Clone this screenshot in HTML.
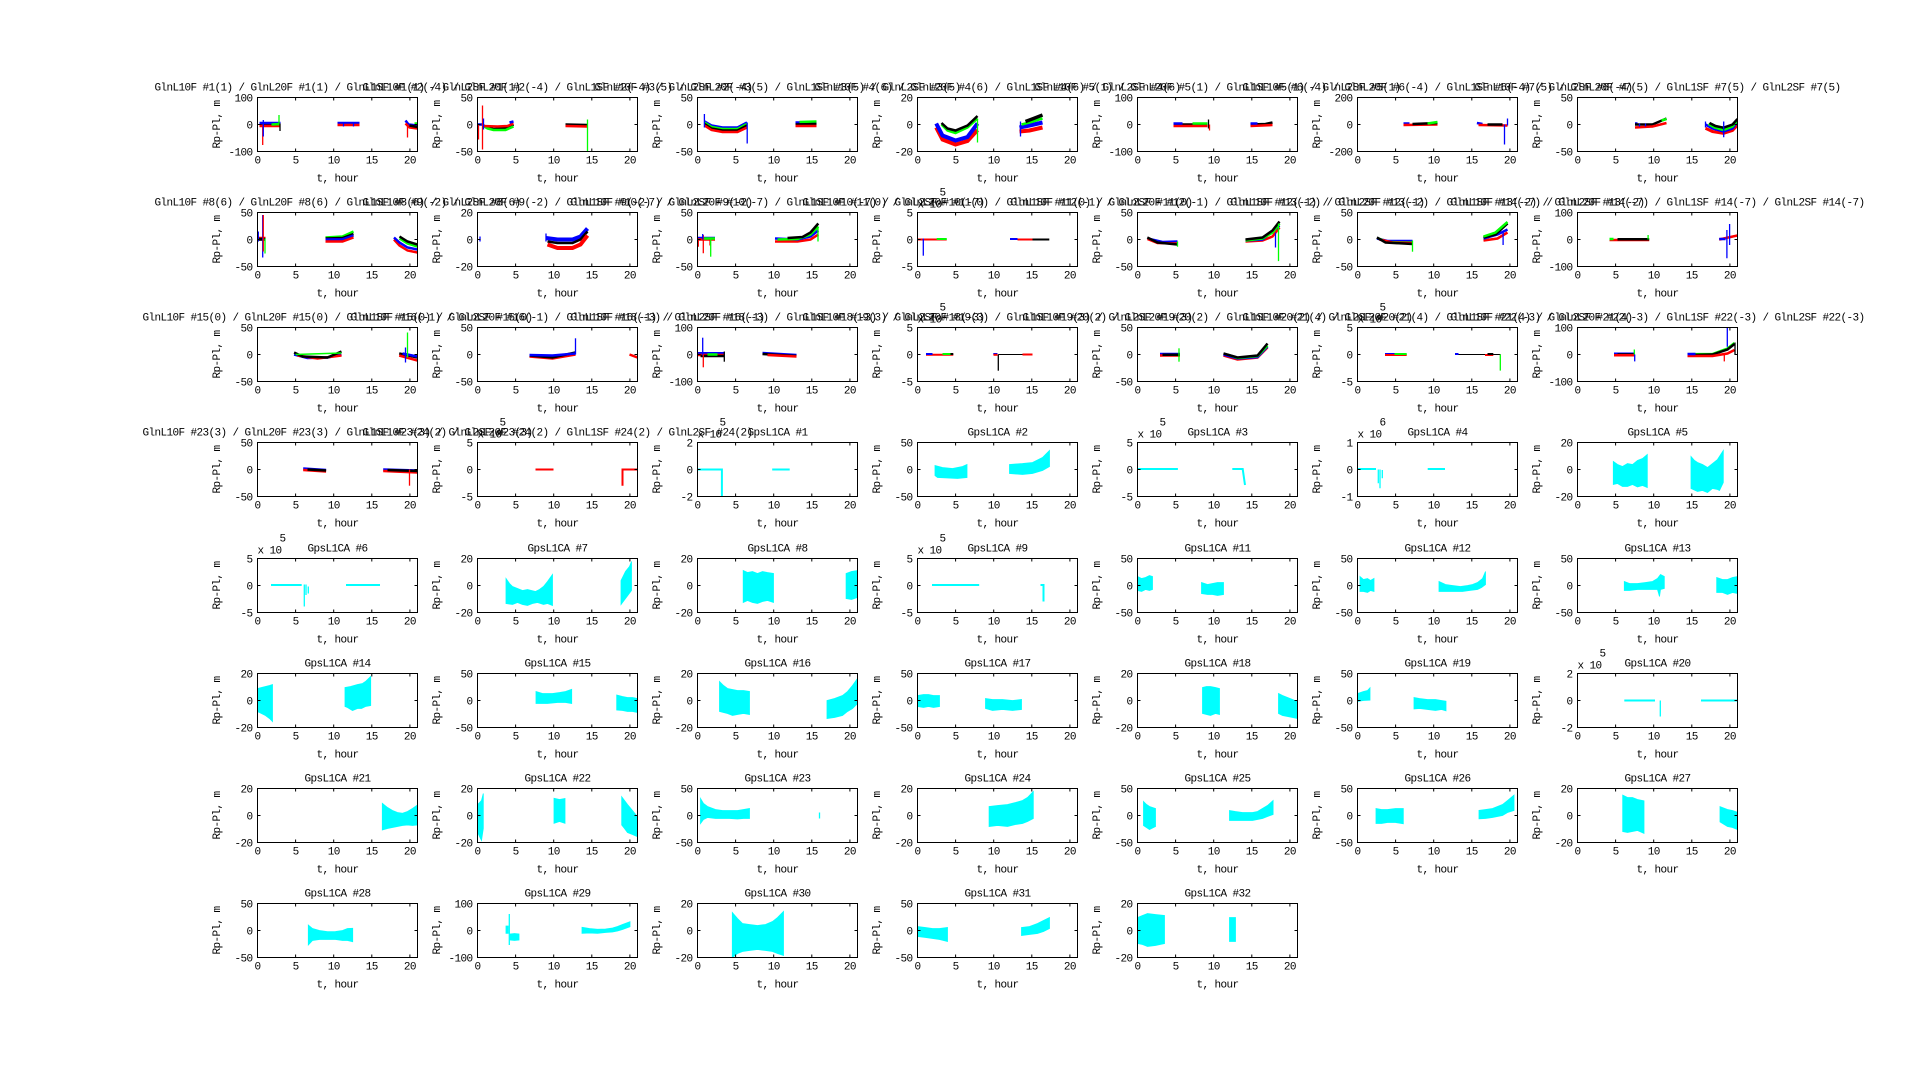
<!DOCTYPE html>
<html><head><meta charset="utf-8"><style>
html,body{margin:0;padding:0;background:#fff}
svg{display:block}
text{font-family:"Liberation Mono","DejaVu Sans Mono",monospace;font-size:11px;letter-spacing:-0.6px;fill:#000}
.m{text-anchor:middle}.e{text-anchor:end}
.b,.g,.r,.k,.c{fill:none;stroke-width:2.5}
.b{stroke:#00f}.g{stroke:#0f0}.r{stroke:#f00}.k{stroke:#000}.c{stroke:#0ff}
.t{stroke-width:2}.s{stroke-width:1.3}.w{stroke-width:4}
.f{fill:#0ff;stroke:#0ff;stroke-width:0.8}
</style></head><body>
<svg width="1920" height="1090" viewBox="0 0 1920 1090" xmlns="http://www.w3.org/2000/svg">
<rect width="1920" height="1090" fill="#fff"/>
<defs>
<clipPath id="cp"><rect x="0" y="0" width="160" height="54"/></clipPath>
<g id="ax"><rect x="0" y="0" width="160" height="54" fill="none" stroke="#000" stroke-width="1"/><path d="M38.1,0v3M76.2,0v3M114.3,0v3M152.4,0v3M38.1,54v-3M76.2,54v-3M114.3,54v-3M152.4,54v-3M0,27h3M160,27h-3" stroke="#000" stroke-width="1" fill="none"/></g>
</defs>

<!-- ROW 1 -->
<g transform="translate(257.5,97.5)">
<g clip-path="url(#cp)">
<polyline class="k" points="2,27 23,27"/><polyline class="b" points="2,25.5 23,25.5"/><polyline class="r" points="2,28.5 23,28.5"/><polyline class="g" points="14,27 22,26.5"/>
<path class="r s" d="M5.2,27V47.5"/><path class="b s" d="M5.8,22.5V39"/><path class="g s" d="M21.5,17.5V28"/><path class="k s" d="M22.5,26V33.5"/>
<polyline class="b" points="80,25.5 102,25.5"/><polyline class="r" points="80,27.5 102,27.5"/><path class="b s" d="M86,26v3M96,26v3"/>
<polyline class="b" points="148,23 151,27 160,28"/><polyline class="r" points="148,26 152,30 160,31"/><path class="r s" d="M150,27V40"/><polyline class="k" points="152,28 160,29.5"/><polyline class="g" points="157,26 160,26"/>
</g><use href="#ax"/>
<text class="m" x="80" y="-7">GlnL10F #1(1) / GlnL20F #1(1) / GlnL1SF #1(1) / GlnL2SF #1(1)</text>
<text class="e" x="-5" y="4">100</text><text class="e" x="-5" y="31">0</text><text class="e" x="-5" y="58">-100</text>
<text class="m" x="0" y="66">0</text><text class="m" x="38.1" y="66">5</text><text class="m" x="76.2" y="66">10</text><text class="m" x="114.3" y="66">15</text><text class="m" x="152.4" y="66">20</text>
<text class="m" x="80" y="84">t, hour</text><text class="m" transform="translate(-37.5,27) rotate(-90)">Rp-Pl, m</text>
</g>

<g transform="translate(477.5,97.5)">
<g clip-path="url(#cp)">
<polyline class="k" points="5,27.5 10,30 16,31.5 29,30.5 36,27"/><polyline class="g" points="6,28.5 10,31 16,32.5 28,32.5 36,29"/><polyline class="r" points="5,28.5 20,29 30,28.5 36,26"/><polyline class="b" points="0.5,27 5,27"/><polyline class="b" points="32,25 36,24"/>
<path class="r s" d="M1,27V42M5,8V52"/><path class="b s" d="M6,21V32"/>
<polyline class="k" points="88,27 110,27.5"/><polyline class="r" points="88,28.5 110,29"/><path class="g s" d="M110,22V54"/>
</g><use href="#ax"/>
<text class="m" x="80" y="-7">GlnL10F #2(-4) / GlnL20F #2(-4) / GlnL1SF #2(-4) / GlnL2SF #2(-4)</text>
<text class="e" x="-5" y="4">50</text><text class="e" x="-5" y="31">0</text><text class="e" x="-5" y="58">-50</text>
<text class="m" x="0" y="66">0</text><text class="m" x="38.1" y="66">5</text><text class="m" x="76.2" y="66">10</text><text class="m" x="114.3" y="66">15</text><text class="m" x="152.4" y="66">20</text>
<text class="m" x="80" y="84">t, hour</text><text class="m" transform="translate(-37.5,27) rotate(-90)">Rp-Pl, m</text>
</g>

<g transform="translate(697.5,97.5)">
<g clip-path="url(#cp)">
<polyline class="b" points="7,24 14,28 25,30 40,30 49.5,25"/><polyline class="g" points="7,25 14,29.5 25,31.5 40,31.5 49.5,26.5"/><polyline class="k" points="7,26.5 14,31 25,33 40,33 49.5,28"/><polyline class="r" points="7,28 14,32.5 25,34.5 40,34.5 49.5,30"/>
<path class="b s" d="M6.9,16.5V30M49.7,25V46"/>
<polyline class="b" points="98,25 119,25"/><polyline class="g" points="102,24.5 119,24"/><polyline class="k" points="98,27 119,26.5"/><polyline class="r" points="98,28.5 119,28.5"/>
</g><use href="#ax"/>
<text class="m" x="80" y="-7">GlnL10F #3(5) / GlnL20F #3(5) / GlnL1SF #3(5) / GlnL2SF #3(5)</text>
<text class="e" x="-5" y="4">50</text><text class="e" x="-5" y="31">0</text><text class="e" x="-5" y="58">-50</text>
<text class="m" x="0" y="66">0</text><text class="m" x="38.1" y="66">5</text><text class="m" x="76.2" y="66">10</text><text class="m" x="114.3" y="66">15</text><text class="m" x="152.4" y="66">20</text>
<text class="m" x="80" y="84">t, hour</text><text class="m" transform="translate(-37.5,27) rotate(-90)">Rp-Pl, m</text>
</g>

<g transform="translate(917.5,97.5)">
<g clip-path="url(#cp)">
<polyline class="r w" points="18.7,30 25,42 38,47 50,43.5 60,32.5"/><polyline class="b w" points="18.7,26 25,38 38,43 50,39.5 60,26"/>
<polyline class="g" points="24,27 30,33 38,35.5 50,30 60,21"/><polyline class="k" points="24,25.5 30,31 38,33 50,28 60,18.5"/><path class="g s" d="M60,21V45"/>
<polyline class="r w" points="102,34 112,33 125,30"/><polyline class="b w" points="102,30 112,28 125,25"/><polyline class="g" points="104,27 112,25 125,21"/><polyline class="k" style="stroke-width:3.5" points="108,24 116,21 125,17.5"/><path class="b s" d="M103,24V39"/>
</g><use href="#ax"/>
<text class="m" x="80" y="-7">GlnL10F #4(6) / GlnL20F #4(6) / GlnL1SF #4(6) / GlnL2SF #4(6)</text>
<text class="e" x="-5" y="4">20</text><text class="e" x="-5" y="31">0</text><text class="e" x="-5" y="58">-20</text>
<text class="m" x="0" y="66">0</text><text class="m" x="38.1" y="66">5</text><text class="m" x="76.2" y="66">10</text><text class="m" x="114.3" y="66">15</text><text class="m" x="152.4" y="66">20</text>
<text class="m" x="80" y="84">t, hour</text><text class="m" transform="translate(-37.5,27) rotate(-90)">Rp-Pl, m</text>
</g>

<g transform="translate(1137.5,97.5)">
<g clip-path="url(#cp)">
<polyline class="k" points="36,27 70,27"/><polyline class="r" points="36,28.5 70,28.5"/><polyline class="b" points="36,26 45,26"/><polyline class="g" points="55,26 70,26"/><path class="k s" d="M71,22V31"/><path class="r s" d="M72,27V33"/>
<polyline class="k" points="113,27 128,26.5 135,25"/><polyline class="r" points="113,28.5 135,27.5"/><polyline class="b" points="113,26 120,26"/>
</g><use href="#ax"/>
<text class="m" x="80" y="-7">GlnL10F #5(1) / GlnL20F #5(1) / GlnL1SF #5(1) / GlnL2SF #5(1)</text>
<text class="e" x="-5" y="4">100</text><text class="e" x="-5" y="31">0</text><text class="e" x="-5" y="58">-100</text>
<text class="m" x="0" y="66">0</text><text class="m" x="38.1" y="66">5</text><text class="m" x="76.2" y="66">10</text><text class="m" x="114.3" y="66">15</text><text class="m" x="152.4" y="66">20</text>
<text class="m" x="80" y="84">t, hour</text><text class="m" transform="translate(-37.5,27) rotate(-90)">Rp-Pl, m</text>
</g>

<g transform="translate(1357.5,97.5)">
<g clip-path="url(#cp)">
<polyline class="b" points="46,26 52,26"/><polyline class="r" points="46,27.5 80,27"/><polyline class="k" points="55,26.5 80,25.5"/><polyline class="g" points="70,26 80,24.5"/>
<polyline class="b" points="119.4,25.5 125,26.5"/><polyline class="r" points="121,27.5 150,28"/><polyline class="k" points="130,27 145,27"/><path class="b s" d="M147,27V47M150,21V28"/>
</g><use href="#ax"/>
<text class="m" x="80" y="-7">GlnL10F #6(-4) / GlnL20F #6(-4) / GlnL1SF #6(-4) / GlnL2SF #6(-4)</text>
<text class="e" x="-5" y="4">200</text><text class="e" x="-5" y="31">0</text><text class="e" x="-5" y="58">-200</text>
<text class="m" x="0" y="66">0</text><text class="m" x="38.1" y="66">5</text><text class="m" x="76.2" y="66">10</text><text class="m" x="114.3" y="66">15</text><text class="m" x="152.4" y="66">20</text>
<text class="m" x="80" y="84">t, hour</text><text class="m" transform="translate(-37.5,27) rotate(-90)">Rp-Pl, m</text>
</g>

<g transform="translate(1577.5,97.5)">
<g clip-path="url(#cp)">
<polyline class="b" points="57.5,26 60,26"/><polyline class="k" points="57.5,27 75,27 89,21"/><polyline class="r" points="57.5,30 75,29 89,25.5"/><polyline class="g" points="84,23 89,21.5"/><path class="b s" d="M62,26v3M68,26v3"/>
<polyline class="r" style="stroke-width:3" points="128,30.8 135,34 146,35.8 155,33 160,27.5"/><polyline class="b" points="128,27 135,31 146,34 155,31 160,24"/><polyline class="g" points="131,26.5 137,30 146,32.5 155,29 160,23"/><polyline class="k" points="132,25.5 138,28.5 146,30.2 155,27 160,21.5"/>
<path class="b s" d="M146.2,24V39.8M128,24V30"/>
</g><use href="#ax"/>
<text class="m" x="80" y="-7">GlnL10F #7(5) / GlnL20F #7(5) / GlnL1SF #7(5) / GlnL2SF #7(5)</text>
<text class="e" x="-5" y="4">50</text><text class="e" x="-5" y="31">0</text><text class="e" x="-5" y="58">-50</text>
<text class="m" x="0" y="66">0</text><text class="m" x="38.1" y="66">5</text><text class="m" x="76.2" y="66">10</text><text class="m" x="114.3" y="66">15</text><text class="m" x="152.4" y="66">20</text>
<text class="m" x="80" y="84">t, hour</text><text class="m" transform="translate(-37.5,27) rotate(-90)">Rp-Pl, m</text>
</g>

<!-- ROW 2 -->
<g transform="translate(257.5,212.5)">
<g clip-path="url(#cp)">
<polyline class="r" points="0,25.5 8,25.5"/><polyline class="k" style="stroke-width:3" points="0,26.8 8,26.8"/>
<path class="b s" d="M0.8,19V29M5.2,2.5V45"/><path class="r s" d="M5.8,2.5V39"/><path class="g s" d="M7.5,26V41"/>
<polyline class="g" points="68,25 85,24 96,19"/><polyline class="k" points="68,26 85,25.5 96,21.5"/><polyline class="b" points="68,27 85,26.8 96,23"/><polyline class="r" points="68,29 85,29 96,25"/>
<polyline class="r" points="136.5,27 142,33 150,38 160,40"/><polyline class="b" points="136.5,25 142,30 150,35 160,37"/><polyline class="g" points="142,26 150,31 160,34"/><polyline class="k" points="142,24 150,29 160,32"/>
</g><use href="#ax"/>
<text class="m" x="80" y="-7">GlnL10F #8(6) / GlnL20F #8(6) / GlnL1SF #8(6) / GlnL2SF #8(6)</text>
<text class="e" x="-5" y="4">50</text><text class="e" x="-5" y="31">0</text><text class="e" x="-5" y="58">-50</text>
<text class="m" x="0" y="66">0</text><text class="m" x="38.1" y="66">5</text><text class="m" x="76.2" y="66">10</text><text class="m" x="114.3" y="66">15</text><text class="m" x="152.4" y="66">20</text>
<text class="m" x="80" y="84">t, hour</text><text class="m" transform="translate(-37.5,27) rotate(-90)">Rp-Pl, m</text>
</g>

<g transform="translate(477.5,212.5)">
<g clip-path="url(#cp)">
<path class="b s" d="M2.5,24V29"/>
<polyline class="b w" points="68.5,25.5 80,27 95,27 103,24 110,16"/><polyline class="k" points="70,29 80,30.5 95,30.5 103,27 110,19"/><polyline class="r w" points="70,32 80,35.5 95,35.5 103,32 110,23"/><path class="b s" d="M68.5,21V29"/>
</g><use href="#ax"/>
<text class="m" x="80" y="-7">GlnL10F #9(-2) / GlnL20F #9(-2) / GlnL1SF #9(-2) / GlnL2SF #9(-2)</text>
<text class="e" x="-5" y="4">20</text><text class="e" x="-5" y="31">0</text><text class="e" x="-5" y="58">-20</text>
<text class="m" x="0" y="66">0</text><text class="m" x="38.1" y="66">5</text><text class="m" x="76.2" y="66">10</text><text class="m" x="114.3" y="66">15</text><text class="m" x="152.4" y="66">20</text>
<text class="m" x="80" y="84">t, hour</text><text class="m" transform="translate(-37.5,27) rotate(-90)">Rp-Pl, m</text>
</g>

<g transform="translate(697.5,212.5)">
<g clip-path="url(#cp)">
<polyline class="b" points="0,25.5 17.5,25.5"/><polyline class="r" points="0,27 17.5,27"/><polyline class="g" points="5,26 17.5,26"/>
<path class="r s" d="M0.8,27V34.2M5.8,22.5V40.8M12.5,27V33"/><path class="g s" d="M13.2,26V44.2"/><path class="b s" d="M5.2,21.5V27"/>
<polyline class="r" points="77.5,29 100,29 113,27 120.8,22"/><polyline class="b" points="77.5,26 100,27 113,24 120.8,18"/><polyline class="g" points="80,27 100,26.5 113,22 120.8,14"/><polyline class="k" points="90,25.5 105,24.5 113,20 120.8,11"/><path class="g s" d="M120.5,14V29"/>
</g><use href="#ax"/>
<text class="m" x="80" y="-7">GlnL10F #10(-7) / GlnL20F #10(-7) / GlnL1SF #10(-7) / GlnL2SF #10(-7)</text>
<text class="e" x="-5" y="4">50</text><text class="e" x="-5" y="31">0</text><text class="e" x="-5" y="58">-50</text>
<text class="m" x="0" y="66">0</text><text class="m" x="38.1" y="66">5</text><text class="m" x="76.2" y="66">10</text><text class="m" x="114.3" y="66">15</text><text class="m" x="152.4" y="66">20</text>
<text class="m" x="80" y="84">t, hour</text><text class="m" transform="translate(-37.5,27) rotate(-90)">Rp-Pl, m</text>
</g>

<g transform="translate(917.5,212.5)">
<g clip-path="url(#cp)">
<polyline class="r t" points="0,27 29.2,27"/><polyline class="g t" points="19.2,26.5 29.2,26.5"/><path class="b s" d="M5.8,26V43.2"/>
<polyline class="b t" points="92.5,26.5 100,26.5"/><polyline class="r t" points="100,27 115,27"/><polyline class="k t" points="115,27 131.8,27"/>
</g><use href="#ax"/>
<text x="0" y="-5">x 10</text><text x="22" y="-17">5</text>
<text class="m" x="80" y="-7">GlnL10F #11(0) / GlnL20F #11(0) / GlnL1SF #11(0) / GlnL2SF #11(0)</text>
<text class="e" x="-5" y="4">5</text><text class="e" x="-5" y="31">0</text><text class="e" x="-5" y="58">-5</text>
<text class="m" x="0" y="66">0</text><text class="m" x="38.1" y="66">5</text><text class="m" x="76.2" y="66">10</text><text class="m" x="114.3" y="66">15</text><text class="m" x="152.4" y="66">20</text>
<text class="m" x="80" y="84">t, hour</text><text class="m" transform="translate(-37.5,27) rotate(-90)">Rp-Pl, m</text>
</g>

<g transform="translate(1137.5,212.5)">
<g clip-path="url(#cp)">
<polyline class="b" points="10,26 25,29.5 40,29"/><polyline class="r" points="10,26.5 20,30.5 40,31"/><polyline class="k" points="9.8,25 20,30 40,32"/><path class="g s" d="M40,29V34.2"/>
<polyline class="r" points="108,29 125,28 135,24 142,15"/><polyline class="b" points="108,28 125,27 142,13"/><polyline class="g" points="108,28 125,26 135,20 142,11"/><polyline class="k" points="108,27 125,25 135,18 142,9"/><path class="g s" d="M141,11V48.6"/><path class="b s" d="M138,20V35"/>
</g><use href="#ax"/>
<text class="m" x="80" y="-7">GlnL10F #12(-1) / GlnL20F #12(-1) / GlnL1SF #12(-1) / GlnL2SF #12(-1)</text>
<text class="e" x="-5" y="4">50</text><text class="e" x="-5" y="31">0</text><text class="e" x="-5" y="58">-50</text>
<text class="m" x="0" y="66">0</text><text class="m" x="38.1" y="66">5</text><text class="m" x="76.2" y="66">10</text><text class="m" x="114.3" y="66">15</text><text class="m" x="152.4" y="66">20</text>
<text class="m" x="80" y="84">t, hour</text><text class="m" transform="translate(-37.5,27) rotate(-90)">Rp-Pl, m</text>
</g>

<g transform="translate(1357.5,212.5)">
<g clip-path="url(#cp)">
<polyline class="b" points="19.4,26 30,28.5 55,28.5"/><polyline class="g" points="20,25.5 30,29.5 55,30"/><polyline class="r" points="22,27 35,30 55,30.5"/><polyline class="k" points="19.4,25 28,30 55,31.5"/><path class="g s" d="M55,28V39.2"/>
<polyline class="r" points="126,28 140,26 150,20"/><polyline class="b" points="126,26 140,22 150,17"/><polyline class="k" points="126,25 138,22 150,11"/><polyline class="g" points="126,24 138,20 150,9.5"/><path class="b s" d="M145.6,20V32.5"/>
</g><use href="#ax"/>
<text class="m" x="80" y="-7">GlnL10F #13(-2) / GlnL20F #13(-2) / GlnL1SF #13(-2) / GlnL2SF #13(-2)</text>
<text class="e" x="-5" y="4">50</text><text class="e" x="-5" y="31">0</text><text class="e" x="-5" y="58">-50</text>
<text class="m" x="0" y="66">0</text><text class="m" x="38.1" y="66">5</text><text class="m" x="76.2" y="66">10</text><text class="m" x="114.3" y="66">15</text><text class="m" x="152.4" y="66">20</text>
<text class="m" x="80" y="84">t, hour</text><text class="m" transform="translate(-37.5,27) rotate(-90)">Rp-Pl, m</text>
</g>

<g transform="translate(1577.5,212.5)">
<g clip-path="url(#cp)">
<polyline class="r" points="32,27.5 71.7,27.5"/><polyline class="k" points="40,26.8 71.7,26.8"/><polyline class="g" points="32,26.5 36,26.5"/><path class="g s" d="M70.6,22.5V27"/>
<polyline class="r" points="141.7,27 160,23"/><polyline class="b" points="141.7,26.5 148,26.5"/><path class="b s" d="M149.4,17.5V45.8M152.1,11.5V32.5"/>
</g><use href="#ax"/>
<text class="m" x="80" y="-7">GlnL10F #14(-7) / GlnL20F #14(-7) / GlnL1SF #14(-7) / GlnL2SF #14(-7)</text>
<text class="e" x="-5" y="4">100</text><text class="e" x="-5" y="31">0</text><text class="e" x="-5" y="58">-100</text>
<text class="m" x="0" y="66">0</text><text class="m" x="38.1" y="66">5</text><text class="m" x="76.2" y="66">10</text><text class="m" x="114.3" y="66">15</text><text class="m" x="152.4" y="66">20</text>
<text class="m" x="80" y="84">t, hour</text><text class="m" transform="translate(-37.5,27) rotate(-90)">Rp-Pl, m</text>
</g>

<!-- ROW 3 -->
<g transform="translate(257.5,327.5)">
<g clip-path="url(#cp)">
<polyline class="b" points="36.6,27 50,30.5 70,30 84,27"/><polyline class="r" points="40,28 60,31 84,28"/><polyline class="k" points="36.6,25 45,29 70,30 84,24"/><polyline class="g" style="stroke-width:1.5" points="38,27 84,25.5"/>
<polyline class="k" points="141.7,26 160,30"/><polyline class="r" points="141.7,28 160,33"/><polyline class="b" points="145,26 160,29"/><path class="g s" d="M150,5V30"/><path class="b s" d="M148,20V35"/>
</g><use href="#ax"/>
<text class="m" x="80" y="-7">GlnL10F #15(0) / GlnL20F #15(0) / GlnL1SF #15(0) / GlnL2SF #15(0)</text>
<text class="e" x="-5" y="4">50</text><text class="e" x="-5" y="31">0</text><text class="e" x="-5" y="58">-50</text>
<text class="m" x="0" y="66">0</text><text class="m" x="38.1" y="66">5</text><text class="m" x="76.2" y="66">10</text><text class="m" x="114.3" y="66">15</text><text class="m" x="152.4" y="66">20</text>
<text class="m" x="80" y="84">t, hour</text><text class="m" transform="translate(-37.5,27) rotate(-90)">Rp-Pl, m</text>
</g>

<g transform="translate(477.5,327.5)">
<g clip-path="url(#cp)">
<polyline class="r" points="52,29 75,31 98,27"/><polyline class="k" points="52,28 75,30 98,25"/><polyline class="b" points="52,27.5 75,28 98,26"/><path class="b s" d="M98,10.8V27"/><polyline class="r" points="152,27 160,30"/>
</g><use href="#ax"/>
<text class="m" x="80" y="-7">GlnL10F #16(-1) / GlnL20F #16(-1) / GlnL1SF #16(-1) / GlnL2SF #16(-1)</text>
<text class="e" x="-5" y="4">50</text><text class="e" x="-5" y="31">0</text><text class="e" x="-5" y="58">-50</text>
<text class="m" x="0" y="66">0</text><text class="m" x="38.1" y="66">5</text><text class="m" x="76.2" y="66">10</text><text class="m" x="114.3" y="66">15</text><text class="m" x="152.4" y="66">20</text>
<text class="m" x="80" y="84">t, hour</text><text class="m" transform="translate(-37.5,27) rotate(-90)">Rp-Pl, m</text>
</g>

<g transform="translate(697.5,327.5)">
<g clip-path="url(#cp)">
<polyline class="b" points="0,25.8 26.8,25.8"/><polyline class="r" points="0,27.5 26.8,27.5"/><polyline class="k" points="3,28.5 26.8,28.5"/><polyline class="g" points="10,27 20,27"/>
<path class="b s" d="M5.2,10.2V28"/><path class="r s" d="M5.8,27V39.8"/><path class="k s" d="M26.8,24V34.2"/>
<polyline class="b" points="65,25.5 99,27.5"/><polyline class="k" points="65,26.5 99,28.5"/><polyline class="r" points="70,27.5 99,29"/>
</g><use href="#ax"/>
<text class="m" x="80" y="-7">GlnL10F #18(-3) / GlnL20F #18(-3) / GlnL1SF #18(-3) / GlnL2SF #18(-3)</text>
<text class="e" x="-5" y="4">100</text><text class="e" x="-5" y="31">0</text><text class="e" x="-5" y="58">-100</text>
<text class="m" x="0" y="66">0</text><text class="m" x="38.1" y="66">5</text><text class="m" x="76.2" y="66">10</text><text class="m" x="114.3" y="66">15</text><text class="m" x="152.4" y="66">20</text>
<text class="m" x="80" y="84">t, hour</text><text class="m" transform="translate(-37.5,27) rotate(-90)">Rp-Pl, m</text>
</g>

<g transform="translate(917.5,327.5)">
<g clip-path="url(#cp)">
<polyline class="r t" points="8.5,27.3 35.8,27.3"/><polyline class="b t" points="8.5,26.5 15,26.5"/><polyline class="g t" points="25,26.5 33,26.5"/><polyline class="k t" points="33,26.5 35.8,26.5"/>
<polyline class="b t" points="75.8,26.5 80,26.5"/><polyline class="r t" points="76,27.3 80,27.3"/><path class="k s" d="M80.8,27V43.2"/><path class="k" style="stroke-width:1" d="M80.8,27H115"/><polyline class="r t" points="105,27 115,27"/>
</g><use href="#ax"/>
<text x="0" y="-5">x 10</text><text x="22" y="-17">5</text>
<text class="m" x="80" y="-7">GlnL10F #19(3) / GlnL20F #19(3) / GlnL1SF #19(3) / GlnL2SF #19(3)</text>
<text class="e" x="-5" y="4">5</text><text class="e" x="-5" y="31">0</text><text class="e" x="-5" y="58">-5</text>
<text class="m" x="0" y="66">0</text><text class="m" x="38.1" y="66">5</text><text class="m" x="76.2" y="66">10</text><text class="m" x="114.3" y="66">15</text><text class="m" x="152.4" y="66">20</text>
<text class="m" x="80" y="84">t, hour</text><text class="m" transform="translate(-37.5,27) rotate(-90)">Rp-Pl, m</text>
</g>

<g transform="translate(1137.5,327.5)">
<g clip-path="url(#cp)">
<polyline class="b" points="22.5,26.5 42.5,26.5"/><polyline class="r" points="22.5,28 42.5,28"/><polyline class="k" points="25,27.3 42.5,27.3"/><path class="g s" d="M41.5,20.8V34.2"/>
<polyline class="r" points="86,28 100,32 120,30 130,20"/><polyline class="b" points="86,27 100,31 120,29.5 130,19"/><polyline class="g" points="90,27 100,30.5 120,28.5 130,18"/><polyline class="k" points="86,26 100,30 120,28 130,16"/>
</g><use href="#ax"/>
<text class="m" x="80" y="-7">GlnL10F #20(2) / GlnL20F #20(2) / GlnL1SF #20(2) / GlnL2SF #20(2)</text>
<text class="e" x="-5" y="4">50</text><text class="e" x="-5" y="31">0</text><text class="e" x="-5" y="58">-50</text>
<text class="m" x="0" y="66">0</text><text class="m" x="38.1" y="66">5</text><text class="m" x="76.2" y="66">10</text><text class="m" x="114.3" y="66">15</text><text class="m" x="152.4" y="66">20</text>
<text class="m" x="80" y="84">t, hour</text><text class="m" transform="translate(-37.5,27) rotate(-90)">Rp-Pl, m</text>
</g>

<g transform="translate(1357.5,327.5)">
<g clip-path="url(#cp)">
<polyline class="b t" points="27.5,26.5 37,26.5"/><polyline class="r t" points="27.5,27.5 49.2,27.5"/><polyline class="g t" points="37,26.5 49.2,26.5"/>
<polyline class="b t" points="97.5,26.5 101,26.5"/><path class="k" style="stroke-width:1" d="M101,27H143"/><polyline class="r t" points="127.5,27.5 135.8,27.5"/><polyline class="k t" points="130,26.5 135.8,26.5"/><path class="g s" d="M142.8,27V43.1"/>
</g><use href="#ax"/>
<text x="0" y="-5">x 10</text><text x="22" y="-17">5</text>
<text class="m" x="80" y="-7">GlnL10F #21(4) / GlnL20F #21(4) / GlnL1SF #21(4) / GlnL2SF #21(4)</text>
<text class="e" x="-5" y="4">5</text><text class="e" x="-5" y="31">0</text><text class="e" x="-5" y="58">-5</text>
<text class="m" x="0" y="66">0</text><text class="m" x="38.1" y="66">5</text><text class="m" x="76.2" y="66">10</text><text class="m" x="114.3" y="66">15</text><text class="m" x="152.4" y="66">20</text>
<text class="m" x="80" y="84">t, hour</text><text class="m" transform="translate(-37.5,27) rotate(-90)">Rp-Pl, m</text>
</g>

<g transform="translate(1577.5,327.5)">
<g clip-path="url(#cp)">
<polyline class="b" points="36.5,26.2 57.2,26.2"/><polyline class="k" points="40,27 57.2,27"/><polyline class="r" points="36.5,27.7 57.2,27.7"/><path class="g s" d="M56.8,22V27"/><path class="b s" d="M57.2,27V33.9"/>
<polyline class="g" points="110,26.8 135,26.5 150,21 157,15.5"/><polyline class="k" points="115,27.5 135,27 150,22 157,16.5"/><polyline class="r" points="110,28.5 135,28.5 150,26 157,22.5"/><polyline class="b" points="110,26.5 118,26.5"/>
<path class="r s" d="M146.8,27V33.9"/><path class="b s" d="M149.8,0.2V19.3"/><path class="k s" d="M157.5,15V27"/>
</g><use href="#ax"/>
<text class="m" x="80" y="-7">GlnL10F #22(-3) / GlnL20F #22(-3) / GlnL1SF #22(-3) / GlnL2SF #22(-3)</text>
<text class="e" x="-5" y="4">100</text><text class="e" x="-5" y="31">0</text><text class="e" x="-5" y="58">-100</text>
<text class="m" x="0" y="66">0</text><text class="m" x="38.1" y="66">5</text><text class="m" x="76.2" y="66">10</text><text class="m" x="114.3" y="66">15</text><text class="m" x="152.4" y="66">20</text>
<text class="m" x="80" y="84">t, hour</text><text class="m" transform="translate(-37.5,27) rotate(-90)">Rp-Pl, m</text>
</g>

<!-- ROW 4 -->
<g transform="translate(257.5,442.5)">
<g clip-path="url(#cp)">
<polyline class="b" points="45.7,26 68.6,27.5"/><polyline class="r" points="45.7,27.5 68.6,29"/><polyline class="k" points="50,27 68.6,28"/>
<polyline class="b" points="125.7,27 160,28"/><polyline class="r" points="125.7,28.5 160,30"/><polyline class="k" points="130,27.5 160,28.5"/><path class="r s" d="M152,27V43.2"/>
</g><use href="#ax"/>
<text class="m" x="80" y="-7">GlnL10F #23(3) / GlnL20F #23(3) / GlnL1SF #23(3) / GlnL2SF #23(3)</text>
<text class="e" x="-5" y="4">50</text><text class="e" x="-5" y="31">0</text><text class="e" x="-5" y="58">-50</text>
<text class="m" x="0" y="66">0</text><text class="m" x="38.1" y="66">5</text><text class="m" x="76.2" y="66">10</text><text class="m" x="114.3" y="66">15</text><text class="m" x="152.4" y="66">20</text>
<text class="m" x="80" y="84">t, hour</text><text class="m" transform="translate(-37.5,27) rotate(-90)">Rp-Pl, m</text>
</g>

<g transform="translate(477.5,442.5)">
<g clip-path="url(#cp)">
<polyline class="r t" points="58,27 76,27"/><polyline class="r t" points="145,43.2 145,27 160,27"/>
</g><use href="#ax"/>
<text x="0" y="-5">x 10</text><text x="22" y="-17">5</text>
<text class="m" x="80" y="-7">GlnL10F #24(2) / GlnL20F #24(2) / GlnL1SF #24(2) / GlnL2SF #24(2)</text>
<text class="e" x="-5" y="4">5</text><text class="e" x="-5" y="31">0</text><text class="e" x="-5" y="58">-5</text>
<text class="m" x="0" y="66">0</text><text class="m" x="38.1" y="66">5</text><text class="m" x="76.2" y="66">10</text><text class="m" x="114.3" y="66">15</text><text class="m" x="152.4" y="66">20</text>
<text class="m" x="80" y="84">t, hour</text><text class="m" transform="translate(-37.5,27) rotate(-90)">Rp-Pl, m</text>
</g>

<g transform="translate(697.5,442.5)">
<g clip-path="url(#cp)">
<polyline class="c t" points="0,27 24.4,27 24.4,54"/><polyline class="c t" points="74.7,27 92.2,27"/>
</g><use href="#ax"/>
<text x="0" y="-5">x 10</text><text x="22" y="-17">5</text>
<text class="m" x="80" y="-7">GpsL1CA #1</text>
<text class="e" x="-5" y="4">2</text><text class="e" x="-5" y="31">0</text><text class="e" x="-5" y="58">-2</text>
<text class="m" x="0" y="66">0</text><text class="m" x="38.1" y="66">5</text><text class="m" x="76.2" y="66">10</text><text class="m" x="114.3" y="66">15</text><text class="m" x="152.4" y="66">20</text>
<text class="m" x="80" y="84">t, hour</text><text class="m" transform="translate(-37.5,27) rotate(-90)">Rp-Pl, m</text>
</g>

<g transform="translate(917.5,442.5)">
<g clip-path="url(#cp)">
<polygon class="f" points="17.5,23 25,25 35,26 45,24 49.5,22 49.5,35 40,36 30,35.5 20,35 17.5,33"/>
<polygon class="f" points="92,22 105,21 115,20 125,15 132,8 132,24 125,28 115,31 105,32 92,31"/>
</g><use href="#ax"/>
<text class="m" x="80" y="-7">GpsL1CA #2</text>
<text class="e" x="-5" y="4">50</text><text class="e" x="-5" y="31">0</text><text class="e" x="-5" y="58">-50</text>
<text class="m" x="0" y="66">0</text><text class="m" x="38.1" y="66">5</text><text class="m" x="76.2" y="66">10</text><text class="m" x="114.3" y="66">15</text><text class="m" x="152.4" y="66">20</text>
<text class="m" x="80" y="84">t, hour</text><text class="m" transform="translate(-37.5,27) rotate(-90)">Rp-Pl, m</text>
</g>

<g transform="translate(1137.5,442.5)">
<g clip-path="url(#cp)">
<polyline class="c t" points="0,26.5 40.4,26.5"/><polyline class="c t" points="94.8,26.5 105.2,26.5 107.5,42.5"/>
</g><use href="#ax"/>
<text x="0" y="-5">x 10</text><text x="22" y="-17">5</text>
<text class="m" x="80" y="-7">GpsL1CA #3</text>
<text class="e" x="-5" y="4">5</text><text class="e" x="-5" y="31">0</text><text class="e" x="-5" y="58">-5</text>
<text class="m" x="0" y="66">0</text><text class="m" x="38.1" y="66">5</text><text class="m" x="76.2" y="66">10</text><text class="m" x="114.3" y="66">15</text><text class="m" x="152.4" y="66">20</text>
<text class="m" x="80" y="84">t, hour</text><text class="m" transform="translate(-37.5,27) rotate(-90)">Rp-Pl, m</text>
</g>

<g transform="translate(1357.5,442.5)">
<g clip-path="url(#cp)">
<polyline class="c t" points="0.2,26.5 18.5,26.5"/><path class="c s" d="M20.8,27V40.8M22.5,27V45.8M24.8,27.5V35.8"/><polyline class="c t" points="70.2,26.5 87.5,26.5"/>
</g><use href="#ax"/>
<text x="0" y="-5">x 10</text><text x="22" y="-17">6</text>
<text class="m" x="80" y="-7">GpsL1CA #4</text>
<text class="e" x="-5" y="4">1</text><text class="e" x="-5" y="31">0</text><text class="e" x="-5" y="58">-1</text>
<text class="m" x="0" y="66">0</text><text class="m" x="38.1" y="66">5</text><text class="m" x="76.2" y="66">10</text><text class="m" x="114.3" y="66">15</text><text class="m" x="152.4" y="66">20</text>
<text class="m" x="80" y="84">t, hour</text><text class="m" transform="translate(-37.5,27) rotate(-90)">Rp-Pl, m</text>
</g>

<g transform="translate(1577.5,442.5)">
<g clip-path="url(#cp)">
<polygon class="f" points="35.8,19 40,22 45,24 50,21 55,22 60,18 65,16 69.8,12 69.8,45 65,43 60,44.5 55,42 50,44 45,44 40,41 35.8,42"/>
<polygon class="f" points="113.5,14 117,18 120,20 125,22 130,25 135,21 140,17 145.8,8 145.8,40 142,48 140,47 135,46 130,50 125,48 120,49 113.5,46"/>
</g><use href="#ax"/>
<text class="m" x="80" y="-7">GpsL1CA #5</text>
<text class="e" x="-5" y="4">20</text><text class="e" x="-5" y="31">0</text><text class="e" x="-5" y="58">-20</text>
<text class="m" x="0" y="66">0</text><text class="m" x="38.1" y="66">5</text><text class="m" x="76.2" y="66">10</text><text class="m" x="114.3" y="66">15</text><text class="m" x="152.4" y="66">20</text>
<text class="m" x="80" y="84">t, hour</text><text class="m" transform="translate(-37.5,27) rotate(-90)">Rp-Pl, m</text>
</g>

<!-- ROW 5 -->
<g transform="translate(257.5,558.5)">
<g clip-path="url(#cp)">
<polyline class="c t" points="13.5,26.5 44.2,26.5"/><polyline class="c t" points="88.5,26.5 122.5,26.5"/><path class="c s" d="M46.8,26V48M48.5,26V36.5M50.8,28V35"/>
</g><use href="#ax"/>
<text x="0" y="-5">x 10</text><text x="22" y="-17">5</text>
<text class="m" x="80" y="-7">GpsL1CA #6</text>
<text class="e" x="-5" y="4">5</text><text class="e" x="-5" y="31">0</text><text class="e" x="-5" y="58">-5</text>
<text class="m" x="0" y="66">0</text><text class="m" x="38.1" y="66">5</text><text class="m" x="76.2" y="66">10</text><text class="m" x="114.3" y="66">15</text><text class="m" x="152.4" y="66">20</text>
<text class="m" x="80" y="84">t, hour</text><text class="m" transform="translate(-37.5,27) rotate(-90)">Rp-Pl, m</text>
</g>

<g transform="translate(477.5,558.5)">
<g clip-path="url(#cp)">
<polygon class="f" points="28.5,20 32,25 35,28 40,30 45,32 50,31 58,33 62,31 66,28 70,23 75,16 75,47 70,45 66,46 60,44 55,45 50,47 45,46 40,44 35,46 28.5,45"/>
<polygon class="f" points="143.5,22 146,17 148,13 152,8 154,3 154,32 151,36 148,40 143.5,46"/>
</g><use href="#ax"/>
<text class="m" x="80" y="-7">GpsL1CA #7</text>
<text class="e" x="-5" y="4">20</text><text class="e" x="-5" y="31">0</text><text class="e" x="-5" y="58">-20</text>
<text class="m" x="0" y="66">0</text><text class="m" x="38.1" y="66">5</text><text class="m" x="76.2" y="66">10</text><text class="m" x="114.3" y="66">15</text><text class="m" x="152.4" y="66">20</text>
<text class="m" x="80" y="84">t, hour</text><text class="m" transform="translate(-37.5,27) rotate(-90)">Rp-Pl, m</text>
</g>

<g transform="translate(697.5,558.5)">
<g clip-path="url(#cp)">
<polygon class="f" points="45.7,12 50,14 55,13 60,15 65,13 70,14 76,15 76,44 70,42 65,43 60,45 55,44 50,42 45.7,44"/>
<polygon class="f" points="148.6,15 154,13 160,12 160,39 154,41 148.6,40"/>
</g><use href="#ax"/>
<text class="m" x="80" y="-7">GpsL1CA #8</text>
<text class="e" x="-5" y="4">20</text><text class="e" x="-5" y="31">0</text><text class="e" x="-5" y="58">-20</text>
<text class="m" x="0" y="66">0</text><text class="m" x="38.1" y="66">5</text><text class="m" x="76.2" y="66">10</text><text class="m" x="114.3" y="66">15</text><text class="m" x="152.4" y="66">20</text>
<text class="m" x="80" y="84">t, hour</text><text class="m" transform="translate(-37.5,27) rotate(-90)">Rp-Pl, m</text>
</g>

<g transform="translate(917.5,558.5)">
<g clip-path="url(#cp)">
<polyline class="c t" points="14.5,26.5 61.7,26.5"/><polyline class="c t" points="123,26.5 126,26.5 126,43"/>
</g><use href="#ax"/>
<text x="0" y="-5">x 10</text><text x="22" y="-17">5</text>
<text class="m" x="80" y="-7">GpsL1CA #9</text>
<text class="e" x="-5" y="4">5</text><text class="e" x="-5" y="31">0</text><text class="e" x="-5" y="58">-5</text>
<text class="m" x="0" y="66">0</text><text class="m" x="38.1" y="66">5</text><text class="m" x="76.2" y="66">10</text><text class="m" x="114.3" y="66">15</text><text class="m" x="152.4" y="66">20</text>
<text class="m" x="80" y="84">t, hour</text><text class="m" transform="translate(-37.5,27) rotate(-90)">Rp-Pl, m</text>
</g>

<g transform="translate(1137.5,558.5)">
<g clip-path="url(#cp)">
<polygon class="f" points="0,18 4,20 8,19 12,17 15,18 15,31 12,32 8,31 4,33 0,32"/>
<polygon class="f" points="64,24 70,26 75,25 80,24 86,24 86,36 80,37 75,36 70,36 64,35"/>
</g><use href="#ax"/>
<text class="m" x="80" y="-7">GpsL1CA #11</text>
<text class="e" x="-5" y="4">50</text><text class="e" x="-5" y="31">0</text><text class="e" x="-5" y="58">-50</text>
<text class="m" x="0" y="66">0</text><text class="m" x="38.1" y="66">5</text><text class="m" x="76.2" y="66">10</text><text class="m" x="114.3" y="66">15</text><text class="m" x="152.4" y="66">20</text>
<text class="m" x="80" y="84">t, hour</text><text class="m" transform="translate(-37.5,27) rotate(-90)">Rp-Pl, m</text>
</g>

<g transform="translate(1357.5,558.5)">
<g clip-path="url(#cp)">
<polygon class="f" points="2.5,18 6,21 10,20 13,22 16.5,20 16.5,33 13,32 10,34 6,33 2.5,33"/>
<polygon class="f" points="81.5,23 88,26 95,27 103,28 110,27 115,26 120,24 125,20 128,13 128,26 124,29 120,31 112,32 105,33 95,33 90,33 81.5,33"/>
</g><use href="#ax"/>
<text class="m" x="80" y="-7">GpsL1CA #12</text>
<text class="e" x="-5" y="4">50</text><text class="e" x="-5" y="31">0</text><text class="e" x="-5" y="58">-50</text>
<text class="m" x="0" y="66">0</text><text class="m" x="38.1" y="66">5</text><text class="m" x="76.2" y="66">10</text><text class="m" x="114.3" y="66">15</text><text class="m" x="152.4" y="66">20</text>
<text class="m" x="80" y="84">t, hour</text><text class="m" transform="translate(-37.5,27) rotate(-90)">Rp-Pl, m</text>
</g>

<g transform="translate(1577.5,558.5)">
<g clip-path="url(#cp)">
<polygon class="f" points="46.8,23 52,25 60,25 68,24 75,23 80,20 83,16 86.8,18 86.8,30 83,31 82,38 80,31 70,31 60,31 52,32 46.8,32"/>
<polygon class="f" points="139.2,19 145,21 150,21 155,19 160,18 160,35 155,34 150,36 145,34 139.2,34"/>
</g><use href="#ax"/>
<text class="m" x="80" y="-7">GpsL1CA #13</text>
<text class="e" x="-5" y="4">50</text><text class="e" x="-5" y="31">0</text><text class="e" x="-5" y="58">-50</text>
<text class="m" x="0" y="66">0</text><text class="m" x="38.1" y="66">5</text><text class="m" x="76.2" y="66">10</text><text class="m" x="114.3" y="66">15</text><text class="m" x="152.4" y="66">20</text>
<text class="m" x="80" y="84">t, hour</text><text class="m" transform="translate(-37.5,27) rotate(-90)">Rp-Pl, m</text>
</g>

<!-- ROW 6 -->
<g transform="translate(257.5,673.5)">
<g clip-path="url(#cp)">
<polygon class="f" points="0,15 4,14 8,13 12,12 15,11 15,48 12,45 8,42 4,40 0,38"/>
<polygon class="f" points="87.5,14 93,13 100,11 105,10 108,8 113.2,3 113.2,32 108,33 104,35 100,35 95,37 90,34 87.5,33"/>
</g><use href="#ax"/>
<text class="m" x="80" y="-7">GpsL1CA #14</text>
<text class="e" x="-5" y="4">20</text><text class="e" x="-5" y="31">0</text><text class="e" x="-5" y="58">-20</text>
<text class="m" x="0" y="66">0</text><text class="m" x="38.1" y="66">5</text><text class="m" x="76.2" y="66">10</text><text class="m" x="114.3" y="66">15</text><text class="m" x="152.4" y="66">20</text>
<text class="m" x="80" y="84">t, hour</text><text class="m" transform="translate(-37.5,27) rotate(-90)">Rp-Pl, m</text>
</g>

<g transform="translate(477.5,673.5)">
<g clip-path="url(#cp)">
<polygon class="f" points="58.5,18 65,20 75,20 82,19 88,18 94.2,15.8 94.2,30 88,29 80,29 70,30 58.5,30"/>
<polygon class="f" points="139.2,21.5 145,23 150,24 155,24 160,25 160,39 155,38 150,38 145,37 139.2,36.5"/>
</g><use href="#ax"/>
<text class="m" x="80" y="-7">GpsL1CA #15</text>
<text class="e" x="-5" y="4">50</text><text class="e" x="-5" y="31">0</text><text class="e" x="-5" y="58">-50</text>
<text class="m" x="0" y="66">0</text><text class="m" x="38.1" y="66">5</text><text class="m" x="76.2" y="66">10</text><text class="m" x="114.3" y="66">15</text><text class="m" x="152.4" y="66">20</text>
<text class="m" x="80" y="84">t, hour</text><text class="m" transform="translate(-37.5,27) rotate(-90)">Rp-Pl, m</text>
</g>

<g transform="translate(697.5,673.5)">
<g clip-path="url(#cp)">
<polygon class="f" points="22,8 26,12 30,15 35,16 40,17 46,17 52,18 52,41 46,40 40,41 35,42 30,40 26,39 22,38"/>
<polygon class="f" points="129.5,27 137,25 145,22 150,18 155,12 160,5 160,30 155,35 150,38 145,42 137,44 129.5,45"/>
</g><use href="#ax"/>
<text class="m" x="80" y="-7">GpsL1CA #16</text>
<text class="e" x="-5" y="4">20</text><text class="e" x="-5" y="31">0</text><text class="e" x="-5" y="58">-20</text>
<text class="m" x="0" y="66">0</text><text class="m" x="38.1" y="66">5</text><text class="m" x="76.2" y="66">10</text><text class="m" x="114.3" y="66">15</text><text class="m" x="152.4" y="66">20</text>
<text class="m" x="80" y="84">t, hour</text><text class="m" transform="translate(-37.5,27) rotate(-90)">Rp-Pl, m</text>
</g>

<g transform="translate(917.5,673.5)">
<g clip-path="url(#cp)">
<polygon class="f" points="0,22 6,21 11,21 16,22 22,22 22,33 16,34 11,33 6,34 0,33"/>
<polygon class="f" points="68,25 75,26 85,26 95,27 104,26 104,36 95,37 85,36 75,37 68,35"/>
</g><use href="#ax"/>
<text class="m" x="80" y="-7">GpsL1CA #17</text>
<text class="e" x="-5" y="4">50</text><text class="e" x="-5" y="31">0</text><text class="e" x="-5" y="58">-50</text>
<text class="m" x="0" y="66">0</text><text class="m" x="38.1" y="66">5</text><text class="m" x="76.2" y="66">10</text><text class="m" x="114.3" y="66">15</text><text class="m" x="152.4" y="66">20</text>
<text class="m" x="80" y="84">t, hour</text><text class="m" transform="translate(-37.5,27) rotate(-90)">Rp-Pl, m</text>
</g>

<g transform="translate(1137.5,673.5)">
<g clip-path="url(#cp)">
<polygon class="f" points="65,14 69,13 73,13 78,14 82,15 82,41 78,40 73,42 69,41 65,40"/>
<polygon class="f" points="141,20 145,22 150,24 155,26 160,28 160,45 155,44 150,43 145,42 141,40"/>
</g><use href="#ax"/>
<text class="m" x="80" y="-7">GpsL1CA #18</text>
<text class="e" x="-5" y="4">20</text><text class="e" x="-5" y="31">0</text><text class="e" x="-5" y="58">-20</text>
<text class="m" x="0" y="66">0</text><text class="m" x="38.1" y="66">5</text><text class="m" x="76.2" y="66">10</text><text class="m" x="114.3" y="66">15</text><text class="m" x="152.4" y="66">20</text>
<text class="m" x="80" y="84">t, hour</text><text class="m" transform="translate(-37.5,27) rotate(-90)">Rp-Pl, m</text>
</g>

<g transform="translate(1357.5,673.5)">
<g clip-path="url(#cp)">
<polygon class="f" points="0,20 6,18 10,17 12.5,14.3 12.5,26.6 6,27 0,28"/>
<polygon class="f" points="56.5,24 62,25 70,26 78,26 84,27 88.5,27.7 88.5,37.3 84,36 78,37 70,36 62,35 56.5,35.4"/>
</g><use href="#ax"/>
<text class="m" x="80" y="-7">GpsL1CA #19</text>
<text class="e" x="-5" y="4">50</text><text class="e" x="-5" y="31">0</text><text class="e" x="-5" y="58">-50</text>
<text class="m" x="0" y="66">0</text><text class="m" x="38.1" y="66">5</text><text class="m" x="76.2" y="66">10</text><text class="m" x="114.3" y="66">15</text><text class="m" x="152.4" y="66">20</text>
<text class="m" x="80" y="84">t, hour</text><text class="m" transform="translate(-37.5,27) rotate(-90)">Rp-Pl, m</text>
</g>

<g transform="translate(1577.5,673.5)">
<g clip-path="url(#cp)">
<polyline class="c t" points="46.8,27 77.5,27"/><path class="c s" d="M82.8,27V43"/><polyline class="c t" points="123.5,27 160,27"/>
</g><use href="#ax"/>
<text x="0" y="-5">x 10</text><text x="22" y="-17">5</text>
<text class="m" x="80" y="-7">GpsL1CA #20</text>
<text class="e" x="-5" y="4">2</text><text class="e" x="-5" y="31">0</text><text class="e" x="-5" y="58">-2</text>
<text class="m" x="0" y="66">0</text><text class="m" x="38.1" y="66">5</text><text class="m" x="76.2" y="66">10</text><text class="m" x="114.3" y="66">15</text><text class="m" x="152.4" y="66">20</text>
<text class="m" x="80" y="84">t, hour</text><text class="m" transform="translate(-37.5,27) rotate(-90)">Rp-Pl, m</text>
</g>

<!-- ROW 7 -->
<g transform="translate(257.5,788.5)">
<g clip-path="url(#cp)">
<polygon class="f" points="124.8,14.8 130,19 135,22 140,24 145,24.8 150,23 155,20 160,16.5 160,36.5 155,37 150,36.5 145,37 140,38 135,39 130,40 124.8,41.5"/>
</g><use href="#ax"/>
<text class="m" x="80" y="-7">GpsL1CA #21</text>
<text class="e" x="-5" y="4">20</text><text class="e" x="-5" y="31">0</text><text class="e" x="-5" y="58">-20</text>
<text class="m" x="0" y="66">0</text><text class="m" x="38.1" y="66">5</text><text class="m" x="76.2" y="66">10</text><text class="m" x="114.3" y="66">15</text><text class="m" x="152.4" y="66">20</text>
<text class="m" x="80" y="84">t, hour</text><text class="m" transform="translate(-37.5,27) rotate(-90)">Rp-Pl, m</text>
</g>

<g transform="translate(477.5,788.5)">
<g clip-path="url(#cp)">
<polygon class="f" points="0.2,16 4,12 5.8,5 5.8,40 4,52 2,48 0.2,44"/>
<polygon class="f" points="76.5,9.8 82,11 87.5,10 87.5,34.8 82,33 76.5,34.8"/>
<polygon class="f" points="144.2,8.2 147,12 150,16 155,22 160,28.2 160,48.2 155,46 150,44 147,40 144.2,36.5"/>
</g><use href="#ax"/>
<text class="m" x="80" y="-7">GpsL1CA #22</text>
<text class="e" x="-5" y="4">20</text><text class="e" x="-5" y="31">0</text><text class="e" x="-5" y="58">-20</text>
<text class="m" x="0" y="66">0</text><text class="m" x="38.1" y="66">5</text><text class="m" x="76.2" y="66">10</text><text class="m" x="114.3" y="66">15</text><text class="m" x="152.4" y="66">20</text>
<text class="m" x="80" y="84">t, hour</text><text class="m" transform="translate(-37.5,27) rotate(-90)">Rp-Pl, m</text>
</g>

<g transform="translate(697.5,788.5)">
<g clip-path="url(#cp)">
<polygon class="f" points="3,10 6,15 10,18 18,21 25,22 32,22 40,22 46,21 52,20 52,30 46,30 40,30.5 32,30 25,30 18,30 10,29 6,31 3,35"/>
<path class="c s" d="M122,24V30"/>
</g><use href="#ax"/>
<text class="m" x="80" y="-7">GpsL1CA #23</text>
<text class="e" x="-5" y="4">50</text><text class="e" x="-5" y="31">0</text><text class="e" x="-5" y="58">-50</text>
<text class="m" x="0" y="66">0</text><text class="m" x="38.1" y="66">5</text><text class="m" x="76.2" y="66">10</text><text class="m" x="114.3" y="66">15</text><text class="m" x="152.4" y="66">20</text>
<text class="m" x="80" y="84">t, hour</text><text class="m" transform="translate(-37.5,27) rotate(-90)">Rp-Pl, m</text>
</g>

<g transform="translate(917.5,788.5)">
<g clip-path="url(#cp)">
<polygon class="f" points="71.6,18 80,17 90,16 98,14 105,12 110,9 115.8,3 115.8,30 110,33 105,35 98,36 90,38 80,37 71.6,38"/>
</g><use href="#ax"/>
<text class="m" x="80" y="-7">GpsL1CA #24</text>
<text class="e" x="-5" y="4">20</text><text class="e" x="-5" y="31">0</text><text class="e" x="-5" y="58">-20</text>
<text class="m" x="0" y="66">0</text><text class="m" x="38.1" y="66">5</text><text class="m" x="76.2" y="66">10</text><text class="m" x="114.3" y="66">15</text><text class="m" x="152.4" y="66">20</text>
<text class="m" x="80" y="84">t, hour</text><text class="m" transform="translate(-37.5,27) rotate(-90)">Rp-Pl, m</text>
</g>

<g transform="translate(1137.5,788.5)">
<g clip-path="url(#cp)">
<polygon class="f" points="6,13 9,16 12,18 18,20 18,38 12,41 9,39 6,37"/>
<polygon class="f" points="92,22 98,23 105,24 115,24 120,23 125,20 130,17 135.6,12 135.6,26 130,28 125,30 115,32 105,32 98,32 92,32"/>
</g><use href="#ax"/>
<text class="m" x="80" y="-7">GpsL1CA #25</text>
<text class="e" x="-5" y="4">50</text><text class="e" x="-5" y="31">0</text><text class="e" x="-5" y="58">-50</text>
<text class="m" x="0" y="66">0</text><text class="m" x="38.1" y="66">5</text><text class="m" x="76.2" y="66">10</text><text class="m" x="114.3" y="66">15</text><text class="m" x="152.4" y="66">20</text>
<text class="m" x="80" y="84">t, hour</text><text class="m" transform="translate(-37.5,27) rotate(-90)">Rp-Pl, m</text>
</g>

<g transform="translate(1357.5,788.5)">
<g clip-path="url(#cp)">
<polygon class="f" points="18.5,20 24,21 30,21 38,20 45.8,20 45.8,35.3 38,34 30,34 24,35 18.5,35"/>
<polygon class="f" points="121.5,21.9 128,21 135,20 140,18 145,16 150,12 156.5,6.6 156.5,21.9 150,24 145,27 140,28 135,29 128,30 121.5,30.3"/>
</g><use href="#ax"/>
<text class="m" x="80" y="-7">GpsL1CA #26</text>
<text class="e" x="-5" y="4">50</text><text class="e" x="-5" y="31">0</text><text class="e" x="-5" y="58">-50</text>
<text class="m" x="0" y="66">0</text><text class="m" x="38.1" y="66">5</text><text class="m" x="76.2" y="66">10</text><text class="m" x="114.3" y="66">15</text><text class="m" x="152.4" y="66">20</text>
<text class="m" x="80" y="84">t, hour</text><text class="m" transform="translate(-37.5,27) rotate(-90)">Rp-Pl, m</text>
</g>

<g transform="translate(1577.5,788.5)">
<g clip-path="url(#cp)">
<polygon class="f" points="45.2,6.6 50,9 55,9 60,11 66.5,12.3 66.5,44.9 60,42 55,43 50,44 45.2,43"/>
<polygon class="f" points="142.5,18.1 150,21 155,22 160,23.8 160,41.1 155,39 150,38 142.5,33.4"/>
</g><use href="#ax"/>
<text class="m" x="80" y="-7">GpsL1CA #27</text>
<text class="e" x="-5" y="4">20</text><text class="e" x="-5" y="31">0</text><text class="e" x="-5" y="58">-20</text>
<text class="m" x="0" y="66">0</text><text class="m" x="38.1" y="66">5</text><text class="m" x="76.2" y="66">10</text><text class="m" x="114.3" y="66">15</text><text class="m" x="152.4" y="66">20</text>
<text class="m" x="80" y="84">t, hour</text><text class="m" transform="translate(-37.5,27) rotate(-90)">Rp-Pl, m</text>
</g>

<!-- ROW 8 -->
<g transform="translate(257.5,903.5)">
<g clip-path="url(#cp)">
<polygon class="f" points="50.8,21.5 55,25 62,27 70,28.2 78,28 85,27 90,25 95.2,24.8 95.2,38.2 90,37 85,37 78,36 70,35.8 62,36 55,37 50.8,41.5"/>
</g><use href="#ax"/>
<text class="m" x="80" y="-7">GpsL1CA #28</text>
<text class="e" x="-5" y="4">50</text><text class="e" x="-5" y="31">0</text><text class="e" x="-5" y="58">-50</text>
<text class="m" x="0" y="66">0</text><text class="m" x="38.1" y="66">5</text><text class="m" x="76.2" y="66">10</text><text class="m" x="114.3" y="66">15</text><text class="m" x="152.4" y="66">20</text>
<text class="m" x="80" y="84">t, hour</text><text class="m" transform="translate(-37.5,27) rotate(-90)">Rp-Pl, m</text>
</g>

<g transform="translate(477.5,903.5)">
<g clip-path="url(#cp)">
<polygon class="f" points="28.5,22.5 30.8,22.5 30.8,29.8 28.5,29.8"/>
<path class="c s" d="M31.8,10.5V41.5"/>
<polygon class="f" points="32.5,30.5 37,30 41.5,30.5 41.5,36.5 37,37 32.5,36.5"/>
<polygon class="f" points="104.5,23.8 112,25 120,25.8 128,25.5 135,24.5 140,23 145,21 152.5,18.2 152.5,23.2 145,26 140,27.5 135,28.5 128,29 120,29.8 112,29.5 104.5,29.8"/>
</g><use href="#ax"/>
<text class="m" x="80" y="-7">GpsL1CA #29</text>
<text class="e" x="-5" y="4">100</text><text class="e" x="-5" y="31">0</text><text class="e" x="-5" y="58">-100</text>
<text class="m" x="0" y="66">0</text><text class="m" x="38.1" y="66">5</text><text class="m" x="76.2" y="66">10</text><text class="m" x="114.3" y="66">15</text><text class="m" x="152.4" y="66">20</text>
<text class="m" x="80" y="84">t, hour</text><text class="m" transform="translate(-37.5,27) rotate(-90)">Rp-Pl, m</text>
</g>

<g transform="translate(697.5,903.5)">
<g clip-path="url(#cp)">
<polygon class="f" points="34.8,9 40,15 45,20 52,21 60,22 68,21 75,18 80,14 86,8 86,52 80,50 75,48 68,47 60,46 52,47 45,48 40,50 34.8,54"/>
</g><use href="#ax"/>
<text class="m" x="80" y="-7">GpsL1CA #30</text>
<text class="e" x="-5" y="4">20</text><text class="e" x="-5" y="31">0</text><text class="e" x="-5" y="58">-20</text>
<text class="m" x="0" y="66">0</text><text class="m" x="38.1" y="66">5</text><text class="m" x="76.2" y="66">10</text><text class="m" x="114.3" y="66">15</text><text class="m" x="152.4" y="66">20</text>
<text class="m" x="80" y="84">t, hour</text><text class="m" transform="translate(-37.5,27) rotate(-90)">Rp-Pl, m</text>
</g>

<g transform="translate(917.5,903.5)">
<g clip-path="url(#cp)">
<polygon class="f" points="0,23 8,24 15,25 22,25 30,24 30,38 22,36 15,35 8,34 0,33"/>
<polygon class="f" points="104,24 112,23 120,20 126,17 132,14 132,25 126,28 120,30 112,31 104,32"/>
</g><use href="#ax"/>
<text class="m" x="80" y="-7">GpsL1CA #31</text>
<text class="e" x="-5" y="4">50</text><text class="e" x="-5" y="31">0</text><text class="e" x="-5" y="58">-50</text>
<text class="m" x="0" y="66">0</text><text class="m" x="38.1" y="66">5</text><text class="m" x="76.2" y="66">10</text><text class="m" x="114.3" y="66">15</text><text class="m" x="152.4" y="66">20</text>
<text class="m" x="80" y="84">t, hour</text><text class="m" transform="translate(-37.5,27) rotate(-90)">Rp-Pl, m</text>
</g>

<g transform="translate(1137.5,903.5)">
<g clip-path="url(#cp)">
<polygon class="f" points="0,14 5,12 10,10 18,11 27,12 27,40 18,42 10,43 5,41 0,40"/>
<polygon class="f" points="92,14 98,14 98,38 92,38"/>
</g><use href="#ax"/>
<text class="m" x="80" y="-7">GpsL1CA #32</text>
<text class="e" x="-5" y="4">20</text><text class="e" x="-5" y="31">0</text><text class="e" x="-5" y="58">-20</text>
<text class="m" x="0" y="66">0</text><text class="m" x="38.1" y="66">5</text><text class="m" x="76.2" y="66">10</text><text class="m" x="114.3" y="66">15</text><text class="m" x="152.4" y="66">20</text>
<text class="m" x="80" y="84">t, hour</text><text class="m" transform="translate(-37.5,27) rotate(-90)">Rp-Pl, m</text>
</g>

</svg>
</body></html>
